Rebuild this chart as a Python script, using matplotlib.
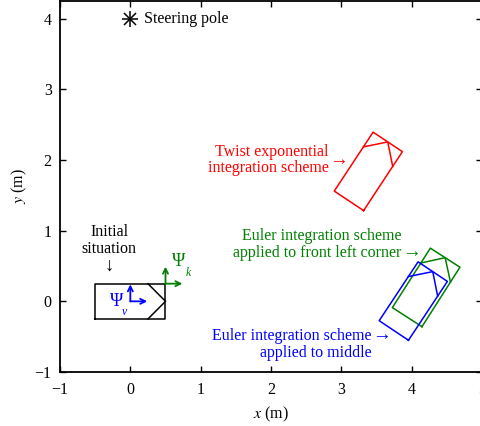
import numpy as np
import matplotlib.pyplot as plt

plt.rcParams['font.family'] = ['Liberation Serif', 'DejaVu Serif']
plt.rcParams['mathtext.fontset'] = 'stix'

# car poses: centre x, centre y, heading (deg)
car_x = [0.0, 3.384, 4.206, 4.023]
car_y = [0.0, 1.839, 0.197, 0.004]
car_heading = [0.0, 56.5, 57.3, 56.4]
car_colors = ['black', 'red', 'green', 'blue']

# car outline and front chevron in the car frame (1 m x 0.5 m)
body_local = np.array([[-0.5, -0.25], [0.5, -0.25], [0.5, 0.25], [-0.5, 0.25], [-0.5, -0.25]])
chevron_local = np.array([[0.25, 0.25], [0.5, 0.0], [0.25, -0.25]])

pole_x, pole_y = 0.0, 4.0
frame_len = 0.24
fs = 11.5


def to_world(pts, cx, cy, deg):
    a = np.deg2rad(deg)
    R = np.array([[np.cos(a), -np.sin(a)], [np.sin(a), np.cos(a)]])
    return pts @ R.T + np.array([cx, cy])


fig = plt.figure(figsize=(4.81, 4.26), dpi=100)
ax = fig.add_axes([60 / 481, 54 / 426, 422 / 481, 371 / 426])

for cx, cy, h, c in zip(car_x, car_y, car_heading, car_colors):
    body = to_world(body_local, cx, cy, h)
    chev = to_world(chevron_local, cx, cy, h)
    ax.plot(body[:, 0], body[:, 1], color=c, lw=1.1)
    ax.plot(chev[:, 0], chev[:, 1], color=c, lw=1.1)

# steering pole
ax.plot(pole_x, pole_y, marker='+', ms=11, mew=1.1, color='black')
ax.plot(pole_x, pole_y, marker='x', ms=8, mew=1.1, color='black')
ax.text(pole_x + 0.2, pole_y, 'Steering pole', fontsize=fs, va='center', ha='left')

# frames
arr = dict(arrowstyle='->', lw=1.3, mutation_scale=9, shrinkA=0, shrinkB=0)
ax.annotate('', xy=(frame_len, 0), xytext=(0, 0), arrowprops=dict(arr, color='blue'))
ax.annotate('', xy=(0, frame_len), xytext=(0, 0), arrowprops=dict(arr, color='blue'))
ax.annotate('', xy=(0.5 + frame_len, 0.25), xytext=(0.5, 0.25), arrowprops=dict(arr, color='green'))
ax.annotate('', xy=(0.5, 0.25 + frame_len), xytext=(0.5, 0.25), arrowprops=dict(arr, color='green'))
ax.text(-0.2, 0.0, 'Ψ', color='blue', fontsize=13, ha='center', va='center')
ax.text(-0.085, -0.15, 'v', color='blue', fontsize=8.5, style='italic', ha='center', va='center')
ax.text(0.69, 0.56, 'Ψ', color='green', fontsize=13, ha='center', va='center')
ax.text(0.82, 0.40, 'k', color='green', fontsize=8.5, style='italic', ha='center', va='center')

# annotations
afs = 13.5
ax.text(-0.3, 0.857, 'Initial\nsituation', fontsize=fs, ha='center', va='center', linespacing=1.05)
ax.text(-0.3, 0.49, '↓', fontsize=afs, ha='center', va='center')

ax.text(2.82, 2.0, 'Twist exponential\nintegration scheme', color='red', fontsize=fs,
        ha='right', va='center', linespacing=1.05, multialignment='right')
ax.text(2.83, 1.99, '→', color='red', fontsize=afs, ha='left', va='center')

ax.text(3.85, 0.80, 'Euler integration scheme\napplied to front left corner', color='green',
        fontsize=fs, ha='right', va='center', linespacing=1.05, multialignment='right')
ax.text(3.86, 0.69, '→', color='green', fontsize=afs, ha='left', va='center')

ax.text(3.43, -0.61, 'Euler integration scheme\napplied to middle', color='blue',
        fontsize=fs, ha='right', va='center', linespacing=1.05, multialignment='right')
ax.text(3.44, -0.49, '→', color='blue', fontsize=afs, ha='left', va='center')

ax.set_xlim(-1, 5)
ax.set_ylim(-1, 4.25)
ax.set_xticks(range(-1, 6))
ax.set_yticks(range(-1, 5))
ax.tick_params(direction='in', top=True, right=True, length=4, width=1, labelsize=fs)
ax.tick_params(axis='x', pad=7)
ax.tick_params(axis='y', pad=6)
for s in ax.spines.values():
    s.set_linewidth(1.3)
ax.set_xlabel('$x$ (m)', fontsize=fs, labelpad=5)
ax.set_ylabel('$y$ (m)', fontsize=fs, labelpad=4)

fig.savefig('out.png', dpi=100)
